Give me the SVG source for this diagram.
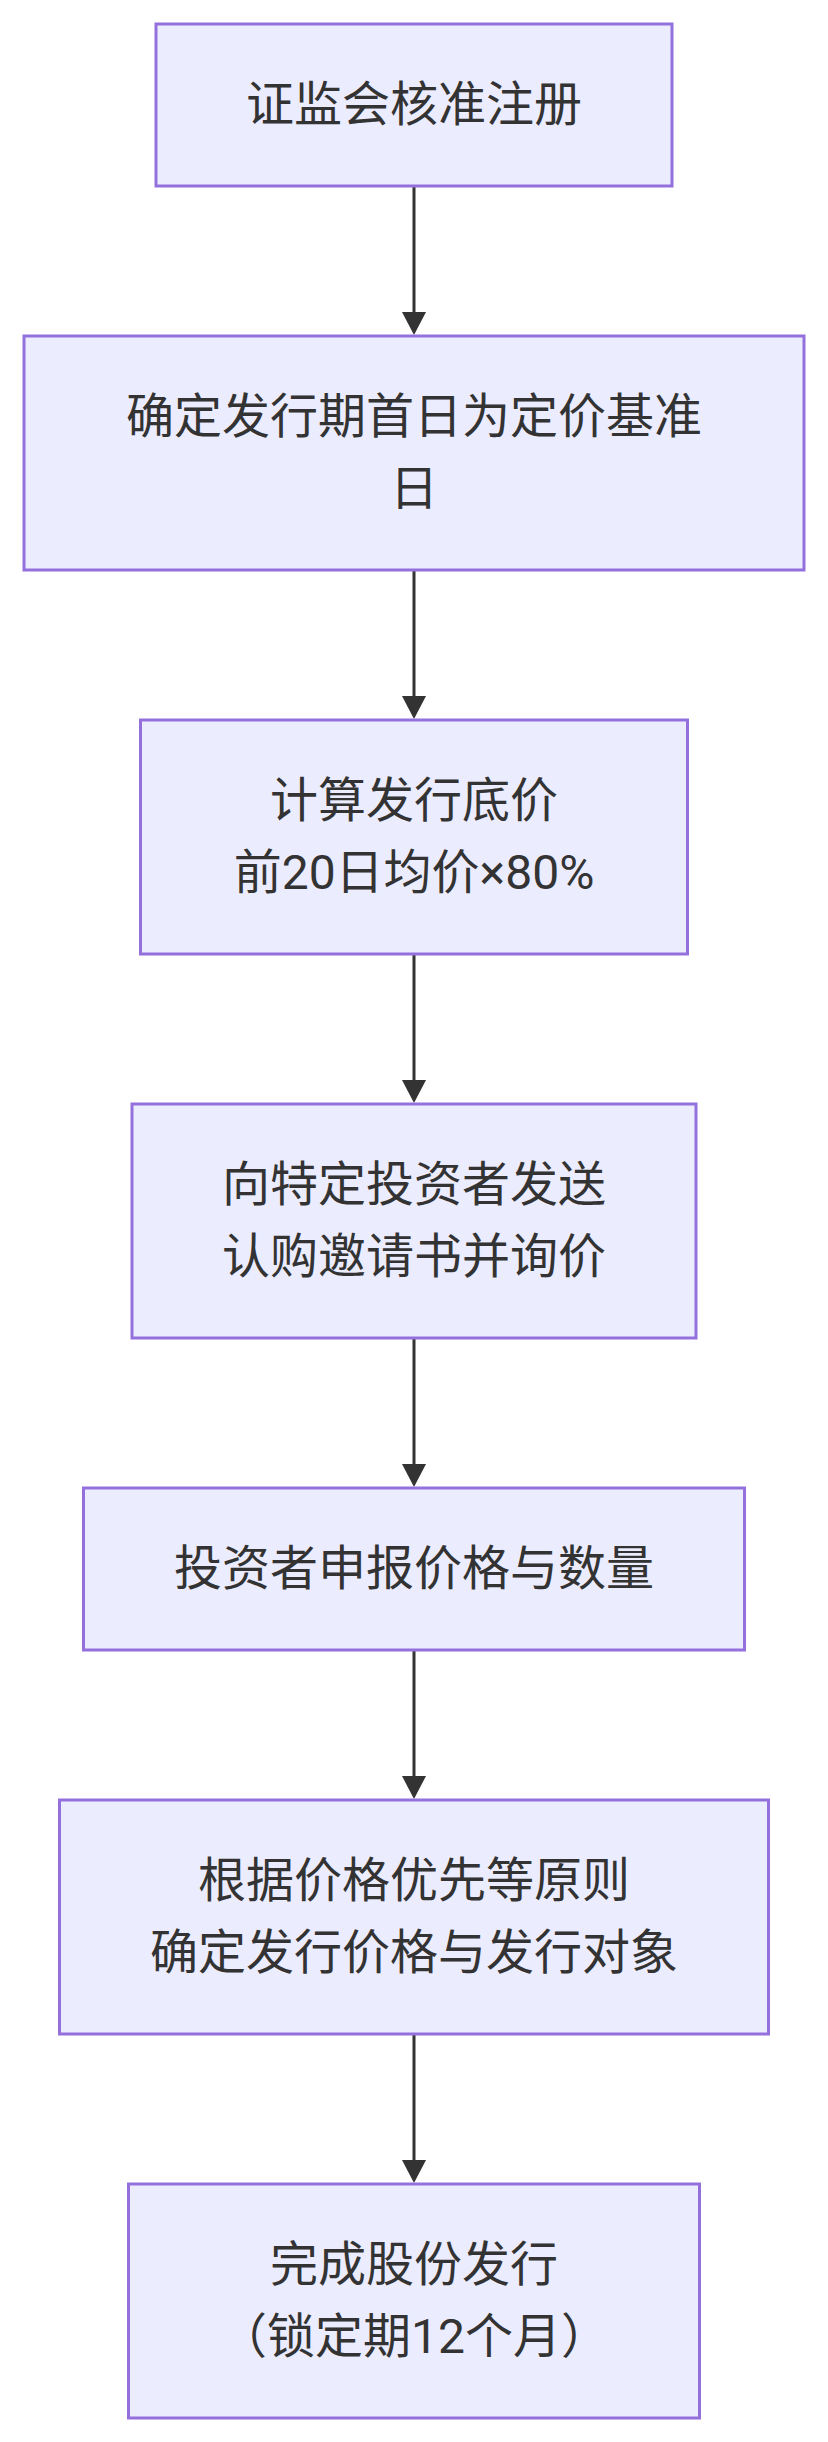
<svg xmlns="http://www.w3.org/2000/svg" width="828" height="2442" viewBox="0 0 828 2442">
<style>
.node rect{fill:#ECECFF;stroke:#9370DB;stroke-width:3}
.node text{font-family:Roboto,"Noto Sans CJK SC","Noto Sans",sans-serif;font-size:48px;fill:#333333;text-anchor:middle}
.edge line{stroke:#333333;stroke-width:3}
.edge polygon{fill:#333333}
</style>
<rect width="828" height="2442" fill="#ffffff"/>
<g id="connectors" class="edge">
<line x1="414" y1="186" x2="414" y2="314"/><polygon points="402,312 426,312 414,335"/>
<line x1="414" y1="570" x2="414" y2="698"/><polygon points="402,696 426,696 414,719"/>
<line x1="414" y1="954" x2="414" y2="1082"/><polygon points="402,1080 426,1080 414,1103"/>
<line x1="414" y1="1338" x2="414" y2="1466"/><polygon points="402,1464 426,1464 414,1487"/>
<line x1="414" y1="1650" x2="414" y2="1778"/><polygon points="402,1776 426,1776 414,1799"/>
<line x1="414" y1="2034" x2="414" y2="2162"/><polygon points="402,2160 426,2160 414,2183"/>
</g>
<g id="n1" class="node"><rect x="156" y="24" width="516" height="162"/><text x="414" y="120.5">证监会核准注册</text></g>
<g id="n2" class="node"><rect x="24" y="336" width="780" height="234"/><text x="414" y="432.5">确定发行期首日为定价基准</text><text x="414" y="504.5">日</text></g>
<g id="n3" class="node"><rect x="140.5" y="720" width="547" height="234"/><text x="414" y="816.5">计算发行底价</text><text x="414" y="888.5">前20日均价×80%</text></g>
<g id="n4" class="node"><rect x="132" y="1104" width="564" height="234"/><text x="414" y="1200.5">向特定投资者发送</text><text x="414" y="1272.5">认购邀请书并询价</text></g>
<g id="n5" class="node"><rect x="83.5" y="1488" width="661" height="162"/><text x="414" y="1584.5">投资者申报价格与数量</text></g>
<g id="n6" class="node"><rect x="59.5" y="1800" width="709" height="234"/><text x="414" y="1896.5">根据价格优先等原则</text><text x="414" y="1968.5">确定发行价格与发行对象</text></g>
<g id="n7" class="node"><rect x="128.5" y="2184" width="571" height="234"/><text x="414" y="2280.5">完成股份发行</text><text x="414" y="2352.5">（锁定期12个月）</text></g>
</svg>
